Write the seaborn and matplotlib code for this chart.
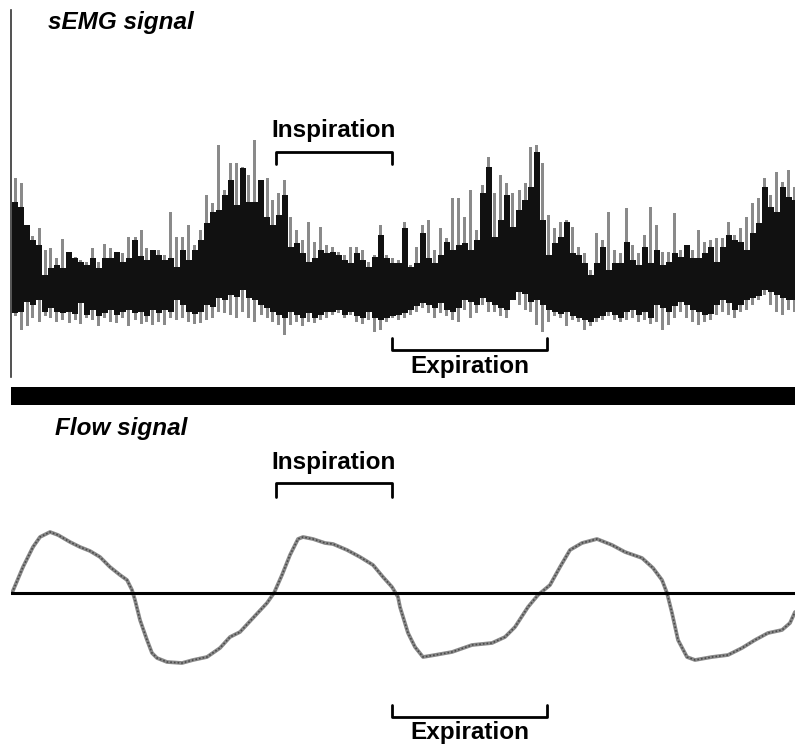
import numpy as np
import matplotlib
matplotlib.use("Agg")
import matplotlib.pyplot as plt
import seaborn as sns

# sEMG envelope, one column every 6 time units (arbitrary amplitude units)
emg_black_hi = [86, 81, 63, 48, 43, 13, 20, 23, 20, 36, 30, 26, 23, 30, 20, 30, 30, 36, 26, 30, 48, 32, 28, 38, 33, 28, 30,
                21, 38, 28, 38, 48, 65, 76, 78, 93, 108, 83, 120, 86, 86, 108, 71, 63, 73, 93, 41, 45, 35, 26, 30, 38, 35,
                36, 33, 28, 25, 35, 28, 21, 31, 53, 30, 25, 25, 60, 21, 25, 55, 30, 25, 33, 46, 38, 43, 45, 38, 48, 95, 121,
                51, 68, 93, 61, 78, 88, 101, 136, 68, 33, 45, 51, 66, 35, 33, 25, 13, 25, 41, 18, 25, 25, 46, 28, 23, 41, 25,
                38, 23, 26, 35, 31, 43, 30, 30, 35, 41, 26, 41, 53, 48, 46, 38, 55, 65, 101, 81, 76, 101, 91, 88]
emg_black_lo = [-25, -24, -14, -17, -12, -24, -20, -24, -25, -24, -26, -15, -27, -22, -28, -25, -22, -27, -24, -22, -25, -24, -28, -22, -25, -22, -24,
                -12, -17, -24, -26, -24, -17, -19, -10, -12, -7, -9, -2, -10, -12, -17, -20, -24, -27, -30, -24, -27, -30, -25, -30, -27, -24,
                -24, -22, -27, -24, -28, -30, -24, -30, -32, -30, -28, -27, -25, -22, -18, -15, -17, -20, -15, -22, -24, -20, -12, -14, -17, -10, -14,
                -17, -20, -22, -12, -4, -6, -14, -12, -17, -22, -24, -26, -24, -28, -30, -32, -34, -30, -28, -24, -27, -30, -24, -22, -27, -24, -30,
                -17, -20, -24, -18, -14, -17, -22, -24, -27, -26, -17, -12, -15, -22, -17, -12, -10, -8, -2, -4, -7, -10, -12, -12]
emg_gray_hi = [110, 105, 63, 52, 60, 38, 40, 30, 49, 36, 31, 28, 26, 40, 26, 44, 40, 35, 35, 51, 51, 58, 40, 38, 38, 33, 76,
               51, 51, 63, 43, 58, 93, 85, 143, 98, 125, 125, 121, 113, 148, 98, 110, 88, 95, 108, 71, 58, 48, 66, 46, 61, 43,
               41, 36, 33, 41, 41, 38, 26, 33, 63, 33, 30, 28, 66, 23, 41, 63, 68, 38, 60, 50, 90, 90, 71, 98, 58, 103, 131,
               95, 113, 105, 95, 98, 105, 141, 143, 125, 73, 60, 66, 68, 61, 41, 35, 18, 55, 48, 76, 38, 35, 80, 43, 35, 53, 81,
               63, 36, 36, 75, 38, 43, 38, 58, 46, 48, 50, 50, 66, 53, 60, 71, 85, 90, 110, 93, 116, 106, 118, 101]
emg_gray_lo = [-28, -42, -38, -30, -34, -28, -30, -34, -32, -35, -32, -36, -30, -32, -38, -30, -34, -35, -30, -38, -32, -36, -34, -37, -34, -37, -30,
               -32, -30, -34, -36, -35, -32, -30, -24, -25, -27, -30, -24, -30, -34, -27, -30, -34, -37, -47, -37, -34, -38, -34, -35, -32, -30,
               -27, -25, -30, -27, -34, -36, -32, -44, -42, -34, -30, -32, -30, -27, -24, -20, -25, -30, -25, -28, -32, -34, -22, -30, -25, -17, -24,
               -24, -28, -30, -8, -17, -22, -24, -37, -44, -34, -28, -30, -38, -32, -34, -42, -38, -34, -32, -28, -32, -34, -32, -30, -34, -32, -36,
               -34, -42, -37, -30, -24, -30, -34, -37, -34, -32, -27, -24, -27, -30, -24, -22, -17, -12, -7, -17, -24, -27, -22, -24]
emg_step = 6

# flow signal (same time units)
flow_t = [-3, 8, 18, 25, 35, 43, 55, 65, 75, 85, 95, 105, 112, 117, 120, 125, 132, 137, 142, 152,
          167, 178, 192, 205, 215, 225, 238, 252, 259, 267, 275, 283, 288, 298, 310, 318, 332, 345,
          358, 368, 377, 383, 385, 393, 400, 408, 420, 437, 457, 477, 490, 500, 513, 523, 535, 545,
          555, 567, 582, 597, 610, 627, 638, 647, 652, 657, 663, 672, 680, 697, 713, 727, 740, 753,
          767, 775, 780]
flow_v = [0, 26, 46, 56, 61, 58, 51, 46, 42, 36, 26, 18, 13, 3, -7, -27, -47, -60, -65, -69,
          -70, -67, -64, -55, -44, -39, -25, -10, 0, 18, 38, 54, 56, 54, 50, 49, 43, 36,
          28, 16, 6, -4, -14, -40, -54, -64, -62, -59, -52, -50, -44, -34, -14, -2, 8, 26,
          43, 50, 54, 48, 41, 35, 25, 13, 0, -20, -47, -64, -67, -64, -62, -55, -47, -40,
          -37, -30, -19]

# bracket spans (time units)
insp_span = (261, 377)
exp_span = (377, 532)

sns.set_style("white")
plt.rcParams["font.family"] = ["Liberation Sans", "DejaVu Sans"]
plt.rcParams["text.color"] = "black"

W, H = 795, 746
fig = plt.figure(figsize=(W / 100, H / 100), dpi=100)


def px_axes(x0, y0, x1, y1):
    return fig.add_axes([x0 / W, 1 - y1 / H, (x1 - x0) / W, (y1 - y0) / H])


ax_top = px_axes(11, 10, 795, 377)
ax_sep = px_axes(11, 387, 795, 405)
ax_bot = px_axes(11, 410, 795, 746)

emg_t = np.arange(len(emg_black_hi)) * emg_step
ax_top.bar(emg_t, np.subtract(emg_gray_hi, emg_gray_lo), bottom=emg_gray_lo,
           width=emg_step * 0.5, color="#8a8a8a", linewidth=0)
ax_top.bar(emg_t, np.subtract(emg_black_hi, emg_black_lo), bottom=emg_black_lo,
           width=emg_step, color="#111111", linewidth=0, antialiased=False)
ax_top.set_xlim(-4, 780)
ax_top.set_ylim(-89, 278)

sns.lineplot(x=flow_t, y=flow_v, ax=ax_bot, color="#8a8a8a", lw=2.7)
ax_bot.plot(flow_t, flow_v, color="#4a4a4a", lw=1.2, ls=(0, (1, 1.2)))
ax_bot.axhline(0, color="black", lw=2.2)
ax_bot.set_xlim(-4, 780)
ax_bot.set_ylim(-153, 183)

ax_sep.set_facecolor("black")

for ax in (ax_top, ax_sep, ax_bot):
    ax.set_xticks([])
    ax.set_yticks([])
    ax.set(xlabel="", ylabel="")
    for s in ax.spines.values():
        s.set_visible(False)
ax_top.spines["left"].set_visible(True)
ax_top.spines["left"].set_color("#333333")
ax_top.spines["left"].set_linewidth(1.2)

fs = 17.5


def bracket(ax, span, y, tick, label, label_y):
    x0, x1 = span
    ax.plot([x0, x0, x1, x1], [y + tick, y, y, y + tick], color="black", lw=2, clip_on=False)
    ax.text((x0 + x1) / 2, label_y, label, ha="center", va="center", color="black",
            fontsize=fs, fontweight="bold", clip_on=False)


ax_top.text(33, 266, "sEMG signal", fontsize=fs, fontweight="bold", style="italic",
            va="center", ha="left", color="black")
bracket(ax_top, insp_span, 136, -12, "Inspiration", 158)
bracket(ax_top, exp_span, -62, 12, "Expiration", -78)

ax_bot.text(40, 165, "Flow signal", fontsize=fs, fontweight="bold", style="italic",
            va="center", ha="left", color="black")
bracket(ax_bot, insp_span, 110, -14, "Inspiration", 131)
bracket(ax_bot, exp_span, -124, 12, "Expiration", -139)

fig.savefig("out.png", dpi=100)
